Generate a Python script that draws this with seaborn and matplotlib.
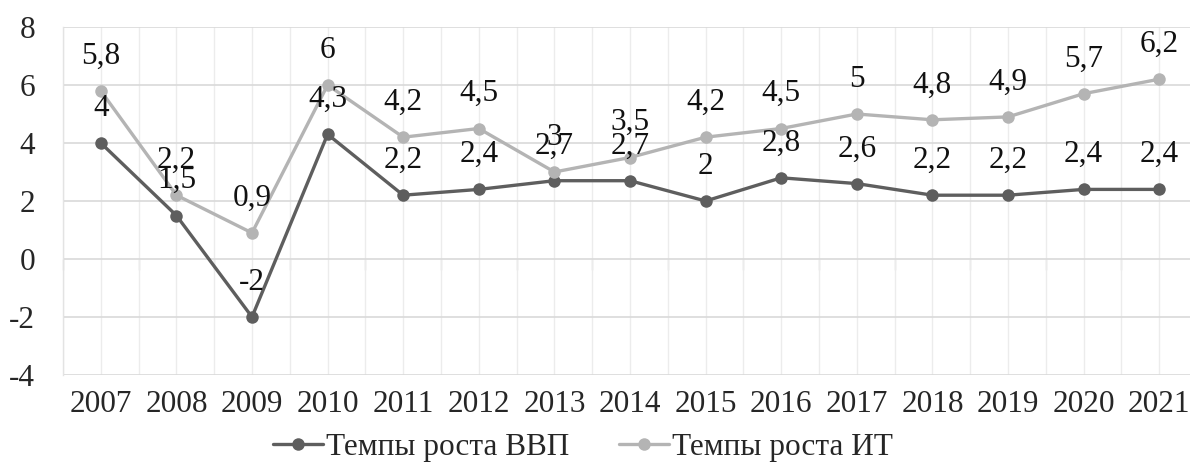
import matplotlib
matplotlib.use("Agg")
import matplotlib.pyplot as plt
import seaborn as sns
import pandas as pd
import numpy as np
from matplotlib.ticker import FixedLocator, FuncFormatter
from matplotlib import font_manager

years = ["2007", "2008", "2009", "2010", "2011", "2012", "2013", "2014",
         "2015", "2016", "2017", "2018", "2019", "2020", "2021"]
gdp_growth = [4, 1.5, -2, 4.3, 2.2, 2.4, 2.7, 2.7, 2, 2.8, 2.6, 2.2, 2.2, 2.4, 2.4]
it_growth = [5.8, 2.2, 0.9, 6, 4.2, 4.5, 3, 3.5, 4.2, 4.5, 5, 4.8, 4.9, 5.7, 6.2]
series_names = ["Темпы роста ВВП", "Темпы роста ИТ"]
y_ticks = [-4, -2, 0, 2, 4, 6, 8]

sns.set_theme(style="white")

# pick an installed Times-like serif font
installed = {f.name: f.fname for f in font_manager.fontManager.ttflist}
chosen = None
for cand in ["Liberation Serif", "Tinos", "Times New Roman", "Nimbus Roman",
             "PT Serif", "Noto Serif", "Source Serif 4", "DejaVu Serif"]:
    if cand in installed:
        chosen = cand
        break
fams = [chosen] if chosen else []
fams += ["DejaVu Serif", "serif"]
plt.rcParams["font.family"] = fams
plt.rcParams["axes.unicode_minus"] = False

FS = 22.5

idx = list(range(len(years)))
df = pd.DataFrame({
    "x": idx + idx,
    "value": gdp_growth + it_growth,
    "series": [series_names[0]] * len(years) + [series_names[1]] * len(years),
})

palette = {series_names[0]: "#5e5e5e", series_names[1]: "#b4b4b4"}

fig = plt.figure(figsize=(11.9, 4.67), dpi=100)
ax = fig.add_axes([63 / 1190, 1 - 375 / 467, (1197 - 63) / 1190, (375 - 27) / 467])

sns.lineplot(data=df, x="x", y="value", hue="series", palette=palette,
             marker="o", markersize=9, markeredgewidth=0, linewidth=2.4,
             ax=ax, legend=True, zorder=3)

ax.set_xlim(-0.5, len(years) - 0.5)
ax.set_ylim(min(y_ticks), max(y_ticks))
ax.set_xlabel("")
ax.set_ylabel("")

# y axis
ax.yaxis.set_major_locator(FixedLocator(y_ticks))
ax.yaxis.set_major_formatter(FuncFormatter(lambda v, p: f"{v:g}"))
ax.tick_params(axis="y", length=0, pad=20, labelsize=FS)

# x axis: labels at centers
ax.set_xticks(idx)
ax.set_xticklabels(years)
ax.tick_params(axis="x", length=0, pad=11, labelsize=FS)
ax.set_xticks(np.arange(-0.5, len(years), 1.0), minor=True)
ax.tick_params(axis="x", which="minor", length=0)

# grid
ax.grid(axis="y", which="major", color="#d9d9d9", linewidth=1.2, zorder=0)
ax.grid(axis="x", which="both", color="#ececec", linewidth=1.0, zorder=0)
for s in ["top", "right", "bottom"]:
    ax.spines[s].set_visible(False)
ax.spines["left"].set_color("#e3e3e3")
ax.spines["left"].set_linewidth(1.0)

# category axis tick marks at y=0
sec = ax.secondary_xaxis((0 - min(y_ticks)) / (max(y_ticks) - min(y_ticks)))
sec.set_xticks(np.arange(-0.5, len(years), 1.0))
sec.set_xticklabels([])
sec.tick_params(axis="x", direction="out", length=8, color="#d9d9d9", width=1.0)
sec.spines["bottom"].set_visible(False)
sec.spines["top"].set_visible(False)

# data labels
def fmt(v):
    return f"{v:g}".replace(".", ",")

for vals in (gdp_growth, it_growth):
    for i, v in zip(idx, vals):
        ax.annotate(fmt(v), (i, v), xytext=(0, 25), textcoords="offset points",
                    ha="center", va="center", fontsize=FS, color="#111111",
                    zorder=5)

# legend
handles, labels = ax.get_legend_handles_labels()
ax.legend_.remove()
fig.legend(handles, labels, loc="center", bbox_to_anchor=(0.49, 1 - 447 / 467),
           ncol=2, frameon=False, fontsize=FS, handlelength=1.6,
           handletextpad=0.1, columnspacing=1.6, borderaxespad=0)

fig.savefig("out.png", dpi=100)
